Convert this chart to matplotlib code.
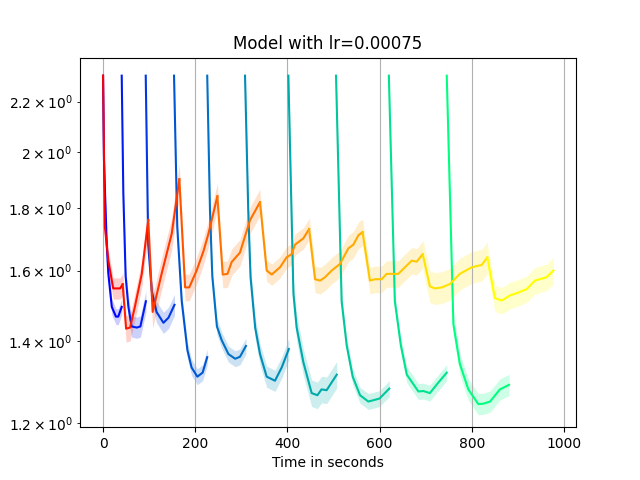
import matplotlib
matplotlib.use("Agg")
import matplotlib.pyplot as plt
import numpy as np

# Blue/green curves (winter colormap), one per training run
blue_x = [
    [0, 2, 8, 11.5, 19, 28, 33, 40.5],
    [40.5, 44, 49, 55, 62, 73, 81, 93],
    [92.6, 98, 105.6, 116, 131, 142, 155],
    [154, 161, 170.7, 183, 192, 204.6, 216, 226],
    [226, 232, 237, 247, 257.5, 272, 286.6, 297, 310],
    [308, 315, 320, 330, 340.5, 355, 373, 387.6, 403],
    [402, 413, 420, 434.6, 452.6, 465, 474, 485, 507],
    [505.4, 517.6, 528.5, 541.6, 557.5, 575.5, 586, 599.6, 621],
    [620, 633, 646, 659, 684, 695, 709, 727, 745.6],
    [745.6, 760, 774, 792.4, 814, 825, 839.5, 861, 880.7],
]
blue_y = [
    [2.31, 1.97, 1.68, 1.59, 1.494, 1.467, 1.467, 1.494],
    [2.31, 1.85, 1.583, 1.494, 1.44, 1.437, 1.44, 1.51],
    [2.31, 1.68, 1.54, 1.48, 1.45, 1.464, 1.50],
    [2.31, 1.737, 1.51, 1.377, 1.333, 1.31, 1.32, 1.359],
    [2.31, 1.79, 1.583, 1.44, 1.403, 1.367, 1.355, 1.36, 1.388],
    [2.31, 1.79, 1.58, 1.437, 1.367, 1.31, 1.30, 1.333, 1.38],
    [2.31, 1.532, 1.437, 1.346, 1.27, 1.265, 1.279, 1.277, 1.315],
    [2.31, 1.51, 1.39, 1.31, 1.265, 1.25, 1.253, 1.257, 1.281],
    [2.31, 1.51, 1.39, 1.315, 1.274, 1.275, 1.27, 1.295, 1.32],
    [2.31, 1.446, 1.342, 1.279, 1.244, 1.245, 1.25, 1.279, 1.29],
]
blue_spread = [0.015, 0.02, 0.02, 0.015, 0.015, 0.02, 0.025, 0.015, 0.015, 0.02]

# Red/yellow curve (autumn colormap), split into segments at each peak
orange_x = [
    [0, 4, 11.5, 22, 37, 42.6],
    [42.6, 50, 58.6, 69, 84, 98],
    [98, 107.6, 127, 149, 165.5],
    [165.5, 178, 187, 203, 218, 228.6, 248],
    [248, 259.6, 270, 279, 297, 319, 340.5],
    [340.5, 355, 366, 384, 398, 409, 416.5, 434.5, 447],
    [447, 460, 471, 481.6, 496, 514, 532, 543, 554, 563],
    [563, 579, 590, 604.5, 615, 640.5, 655, 669.6, 680.5, 693.5],
    [693.5, 709, 720, 735, 752.7, 774, 800, 821.5, 833.6],
    [833.6, 850, 865, 883, 901, 919, 937, 962, 977],
]
orange_y = [
    [2.31, 1.737, 1.63, 1.547, 1.547, 1.559],
    [1.559, 1.434, 1.437, 1.494, 1.59, 1.76],
    [1.76, 1.48, 1.59, 1.715, 1.90],
    [1.90, 1.55, 1.55, 1.60, 1.66, 1.715, 1.84],
    [1.84, 1.588, 1.59, 1.626, 1.655, 1.76, 1.82],
    [1.82, 1.60, 1.588, 1.61, 1.64, 1.65, 1.68, 1.70, 1.73],
    [1.73, 1.574, 1.57, 1.58, 1.60, 1.62, 1.668, 1.68, 1.71, 1.72],
    [1.72, 1.57, 1.574, 1.574, 1.59, 1.59, 1.61, 1.63, 1.627, 1.65],
    [1.65, 1.553, 1.547, 1.55, 1.56, 1.59, 1.61, 1.617, 1.64],
    [1.64, 1.519, 1.512, 1.527, 1.535, 1.545, 1.57, 1.58, 1.60],
]
orange_spread = [0.02, 0.025, 0.03, 0.025, 0.025, 0.02, 0.025, 0.025, 0.03, 0.025]

fig, ax = plt.subplots(figsize=(6.4, 4.8), dpi=100)
n = len(blue_x)
for i in range(n):
    c = plt.cm.winter(i / (n - 1))
    x, y = np.array(blue_x[i]), np.array(blue_y[i])
    s = blue_spread[i] * y
    ax.fill_between(x, y - s, y + s, color=c, alpha=0.2, lw=0)
    ax.plot(x, y, color=c, lw=1.5)
for i in range(n):
    c = plt.cm.autumn(i / (n - 1))
    x, y = np.array(orange_x[i]), np.array(orange_y[i])
    s = orange_spread[i] * y
    ax.fill_between(x, y - s, y + s, color=c, alpha=0.2, lw=0)
    ax.plot(x, y, color=c, lw=1.5)

ax.set_yscale("log")
ax.set_ylim(1.191, 2.39)
ax.set_xlim(-50, 1026)
ax.xaxis.grid(True, color="#b0b0b0")
ax.set_title("Model with lr=0.00075")
ax.set_xlabel("Time in seconds")
fig.savefig("out.png")
